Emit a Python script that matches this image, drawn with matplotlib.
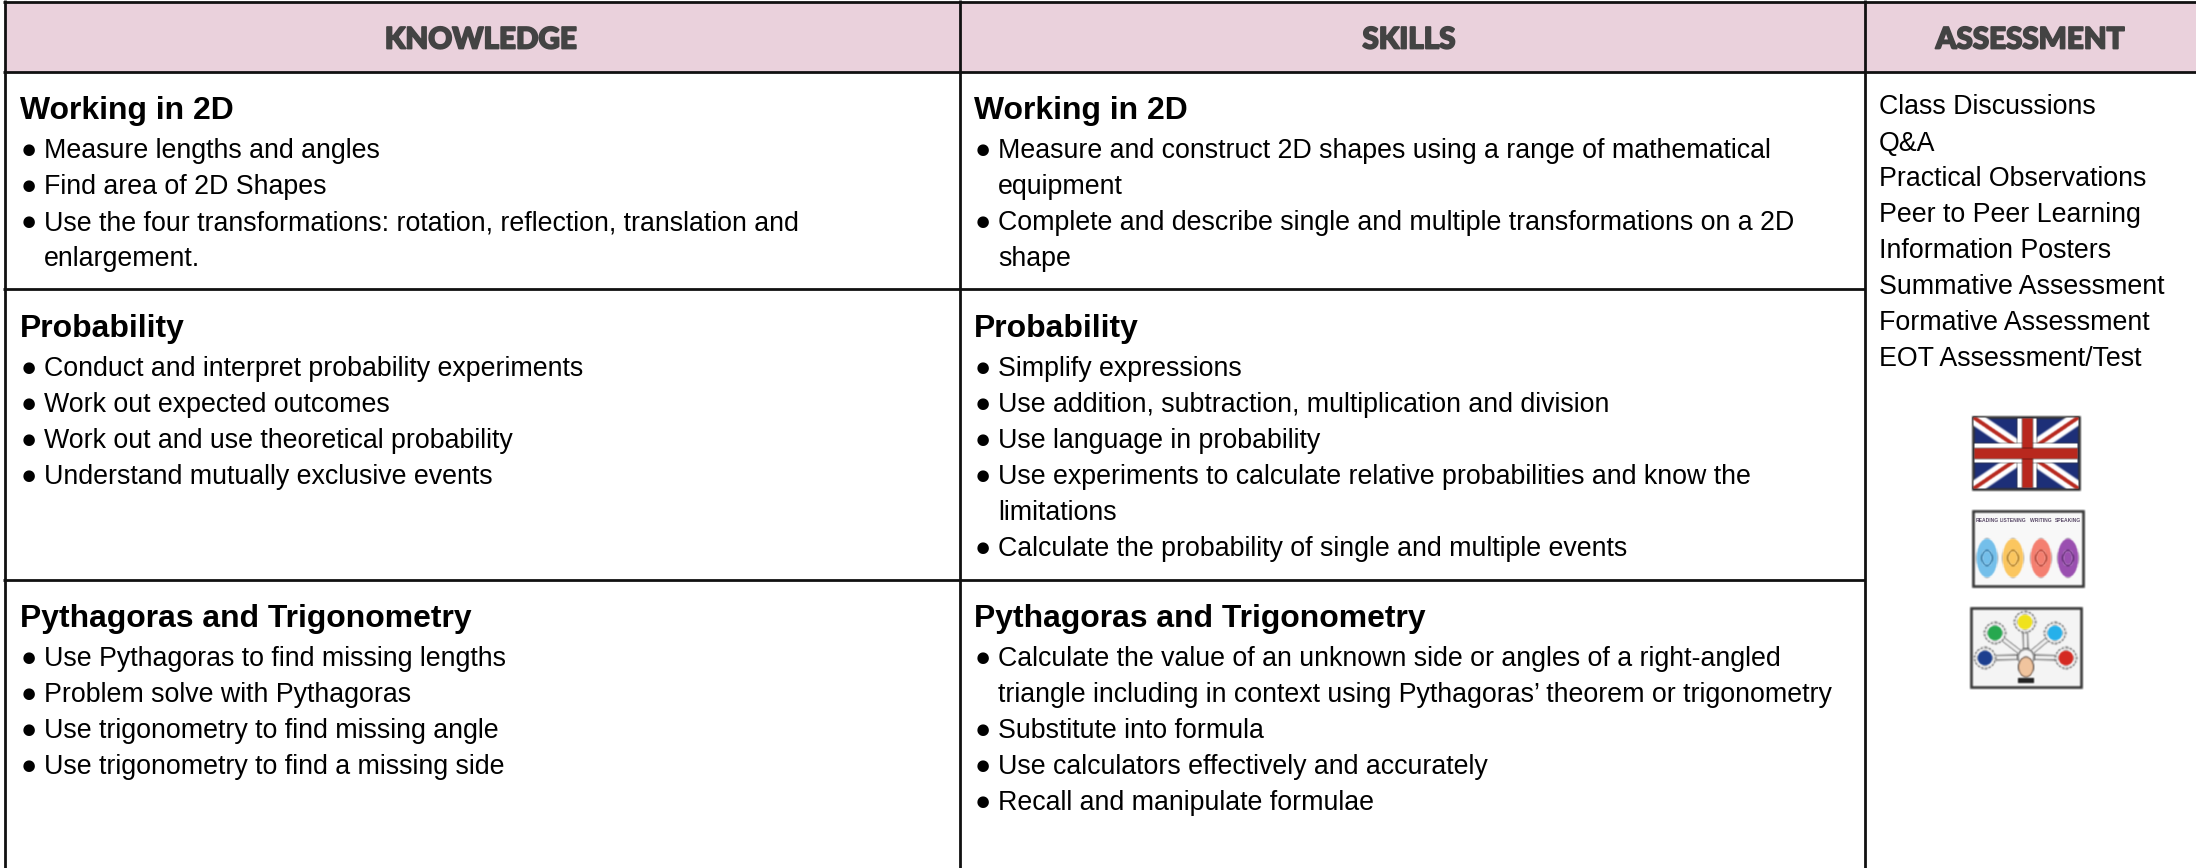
import matplotlib
matplotlib.use("Agg")
import numpy as np
import matplotlib.pyplot as plt
import matplotlib.patheffects as pe
from matplotlib.patches import Rectangle, Ellipse, Circle

W, H = 2196, 868
HEADERS = ["KNOWLEDGE", "SKILLS", "ASSESSMENT"]
K1 = ["Measure lengths and angles", "Find area of 2D Shapes",
      "Use the four transformations: rotation, reflection, translation and", "enlargement."]
K1B = [1, 1, 1, 0]
K2 = ["Conduct and interpret probability experiments", "Work out expected outcomes",
      "Work out and use theoretical probability", "Understand mutually exclusive events"]
K2B = [1, 1, 1, 1]
K3 = ["Use Pythagoras to find missing lengths", "Problem solve with Pythagoras",
      "Use trigonometry to find missing angle", "Use trigonometry to find a missing side"]
K3B = [1, 1, 1, 1]
S1 = ["Measure and construct 2D shapes using a range of mathematical", "equipment",
      "Complete and describe single and multiple transformations on a 2D", "shape"]
S1B = [1, 0, 1, 0]
S2 = ["Simplify expressions", "Use addition, subtraction, multiplication and division",
      "Use language in probability", "Use experiments to calculate relative probabilities and know the",
      "limitations", "Calculate the probability of single and multiple events"]
S2B = [1, 1, 1, 1, 0, 1]
S3 = ["Calculate the value of an unknown side or angles of a right-angled",
      "triangle including in context using Pythagoras\u2019 theorem or trigonometry",
      "Substitute into formula", "Use calculators effectively and accurately", "Recall and manipulate formulae"]
S3B = [1, 0, 1, 1, 1]
TOPICS = ["Working in 2D", "Probability", "Pythagoras and Trigonometry"]
ASSESS = ["Class Discussions", "Q&A", "Practical Observations", "Peer to Peer Learning",
          "Information Posters", "Summative Assessment", "Formative Assessment", "EOT Assessment/Test"]

PINK = "#ead1dc"
FONT = "Liberation Sans"
plt.rcParams["font.family"] = [FONT, "DejaVu Sans"]


def soften(image, dpi):
    """Small blur so that the icons look like the scaled-up bitmaps of the reference."""
    kernel = np.array([1.0, 2.0, 1.0]) / 4
    pad = 3
    out = np.pad(image, ((pad, pad), (pad, pad), (0, 0)), mode="constant")
    out = out.astype(float)
    for axis in (0, 1):
        out = np.apply_along_axis(lambda v: np.convolve(v, kernel, mode="same"), axis, out)
    return out.astype(image.dtype), -pad, -pad


fig = plt.figure(figsize=(W / 100, H / 100), dpi=100)
ax = fig.add_axes([0, 0, 1, 1])
ax.set_xlim(0, W)
ax.set_ylim(H, 0)
ax.axis("off")

XL = [5, 960, 1865]
ax.add_patch(Rectangle((5, 2), W - 5, 70, fc=PINK, ec="none", zorder=0))
for x in XL:
    ax.plot([x, x], [0, H], color="#111111", lw=2.0, zorder=3, solid_capstyle="butt")
for y, xend in [(2, W), (72, W), (289, 1865), (580, 1865)]:
    ax.plot([3, xend], [y, y], color="#111111", lw=2.0, zorder=3, solid_capstyle="butt")

for cx, t in zip([481, 1409, 2030], HEADERS):
    ax.text(cx, 48.5, t, ha="center", va="baseline", fontsize=21.3, fontweight="black",
            family="Lato", color="#434343",
            path_effects=[pe.withStroke(linewidth=1.3, foreground="#434343")])

FS = 19.25
BLOCKS = [(20, 118.5, TOPICS[0], K1, K1B), (20, 336.5, TOPICS[1], K2, K2B), (20, 626.5, TOPICS[2], K3, K3B),
          (974, 118.5, TOPICS[0], S1, S1B), (974, 336.5, TOPICS[1], S2, S2B), (974, 626.5, TOPICS[2], S3, S3B)]
for x, y, title, lines, bullets in BLOCKS:
    ax.text(x, y, title, fontsize=22.95, fontweight="bold", va="baseline", color="black")
    for i, (s, b) in enumerate(zip(lines, bullets)):
        yy = y + 40 + 36 * i
        if b:
            ax.text(x + 0.5, yy, "\u25cf", fontsize=FS, va="baseline", color="black")
        ax.text(x + 24, yy, s, fontsize=FS, va="baseline", color="black")

for i, s in enumerate(ASSESS):
    ax.text(1878.7, 114.5 + 36 * i, s, fontsize=FS, va="baseline", color="black")


def add(p):
    ax.add_patch(p)
    p.set_agg_filter(soften)
    return p


def line(xs, ys, **kw):
    l, = ax.plot(xs, ys, **kw)
    l.set_agg_filter(soften)
    return l


# flag icon
fx0, fx1, fy0, fy1 = 1973, 2079, 417, 489
frame = add(Rectangle((fx0, fy0), fx1 - fx0, fy1 - fy0, fc="#1d2f78", ec="#333333", lw=1.8, zorder=2))
for a, b in [((fx0, fy0), (fx1, fy1)), ((fx0, fy1), (fx1, fy0))]:
    l1 = line([a[0], b[0]], [a[1], b[1]], color="white", lw=10, zorder=2.1)
    l2 = line([a[0], b[0]], [a[1], b[1]], color="#b8281e", lw=3, zorder=2.2)
    l1.set_clip_path(frame)
    l2.set_clip_path(frame)
mx, my = (fx0 + fx1) / 2 + 1, (fy0 + fy1) / 2
add(Rectangle((mx - 10, fy0 + 1), 20, fy1 - fy0 - 2, fc="white", ec="none", zorder=2.3))
add(Rectangle((fx0 + 1, my - 10), fx1 - fx0 - 2, 20, fc="white", ec="none", zorder=2.3))
add(Rectangle((mx - 5.5, fy0 + 1), 11, fy1 - fy0 - 2, fc="#b8281e", ec="none", zorder=2.4))
add(Rectangle((fx0 + 1, my - 5.5), fx1 - fx0 - 2, 11, fc="#b8281e", ec="none", zorder=2.4))

# reading / listening / writing / speaking icon
add(Rectangle((1973, 511), 110, 75, fc="#f8f8f8", ec="#333333", lw=1.8, zorder=2))
ICON_LABELS = ["READING", "LISTENING", "WRITING", "SPEAKING"]
for cx, c, lab, dk in zip([1987, 2013, 2041, 2068], ["#74bfea", "#fbc65f", "#f47f70", "#9a4fb0"],
                          ICON_LABELS, ["#2c6d99", "#9a6b1e", "#a3382c", "#5a2a6c"]):
    add(Ellipse((cx, 558), 21, 39, fc=c, ec="none", zorder=2.2))
    add(Ellipse((cx, 558), 10, 15, fc="none", ec=dk, lw=0.9, zorder=2.3))
    ax.text(cx, 521, lab, fontsize=3.6, ha="center", va="center", color="#5a4a68", zorder=2.3,
            fontweight="bold")

# hand and hub icon
add(Rectangle((1971, 608), 110, 79, fc="#f4f4f4", ec="#333333", lw=1.8, zorder=2))
hx, hy = 2026, 657
NODES = [(1985, 658, "#1d3f8f"), (1995, 633, "#27a84f"), (2025, 622, "#efe21c"),
         (2055, 633, "#26b0ea"), (2066, 658, "#d42a22")]
for nx, ny, c in NODES:
    line([hx, nx], [hy, ny], color="#9a9a9a", lw=4, zorder=2.1, solid_capstyle="round")
    line([hx, nx], [hy, ny], color="#f4f4f4", lw=2, zorder=2.15, solid_capstyle="round")
    add(Circle((nx, ny), 10.5, fc="#f4f4f4", ec="#777777", lw=1.2, ls=(0, (1.5, 0.8)), zorder=2.2))
    add(Circle((nx, ny), 7.5, fc=c, ec="none", zorder=2.3))
add(Circle((hx, hy), 8, fc="#f4f4f4", ec="#888888", lw=1.4, zorder=2.4))
add(Ellipse((hx, 667), 15, 20, fc="#f0c49e", ec="#6a5040", lw=0.7, zorder=2.5))
add(Rectangle((hx - 8, 678), 16, 5, fc="#222222", ec="none", zorder=2.6))

fig.savefig("out.png", dpi=100, facecolor="white")
